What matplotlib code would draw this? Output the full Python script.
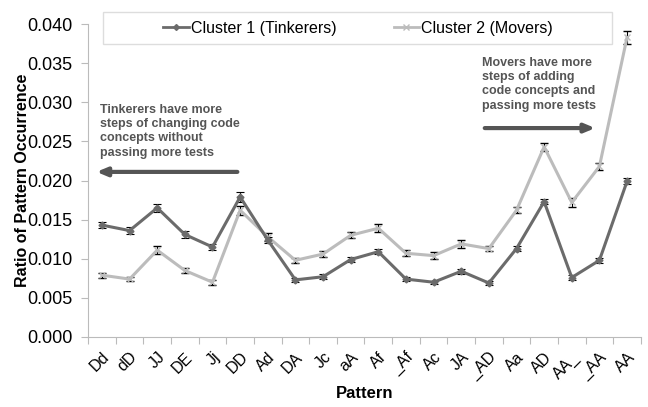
import matplotlib
matplotlib.use("Agg")
import matplotlib.pyplot as plt
from matplotlib.lines import Line2D
from matplotlib.patches import Rectangle
import numpy as np

plt.rcParams["font.family"] = ["Liberation Sans", "DejaVu Sans"]

patterns = ["Dd", "dD", "JJ", "DE", "Jj", "DD", "Ad", "DA", "Jc", "aA", "Af", "_Af",
            "Ac", "JA", "_AD", "Aa", "AD", "AA_", "_AA", "AA"]
cluster1 = [0.0143, 0.0136, 0.0165, 0.0131, 0.0115, 0.0179, 0.0124, 0.0073, 0.0077, 0.0099,
            0.0109, 0.0074, 0.0070, 0.0084, 0.0069, 0.0113, 0.0173, 0.0076, 0.0098, 0.0199]
cluster1_err = [0.0004, 0.0004, 0.0005, 0.0004, 0.0004, 0.0006, 0.0004, 0.0003, 0.0003, 0.0003,
                0.0003, 0.0003, 0.0002, 0.0003, 0.0003, 0.0003, 0.0003, 0.0003, 0.0003, 0.0004]
cluster2 = [0.0079, 0.0074, 0.0111, 0.0085, 0.0070, 0.0162, 0.0128, 0.0098, 0.0106, 0.0130,
            0.0139, 0.0107, 0.0104, 0.0119, 0.0113, 0.0162, 0.0243, 0.0172, 0.0218, 0.0383]
cluster2_err = [0.0003, 0.0003, 0.0005, 0.0003, 0.0003, 0.0006, 0.0005, 0.0003, 0.0004, 0.0004,
                0.0005, 0.0004, 0.0004, 0.0005, 0.0003, 0.0004, 0.0005, 0.0006, 0.0005, 0.0008]
series_names = ["Cluster 1 (Tinkerers)", "Cluster 2 (Movers)"]

fig = plt.figure(figsize=(6.48, 4.07), dpi=100)
ax = fig.add_axes([0.136, 0.172, 0.853, 0.769])

x = np.arange(len(patterns))
c1 = "#6b6b6b"
c2 = "#bcbcbc"
ax.errorbar(x, cluster2, yerr=cluster2_err, color=c2, lw=2.2, marker="x", ms=4, mew=1,
            ecolor="black", elinewidth=0.8, capsize=3, capthick=0.8, zorder=3)
ax.errorbar(x, cluster1, yerr=cluster1_err, color=c1, lw=2.2, marker="D", ms=3.5,
            ecolor="black", elinewidth=0.8, capsize=3, capthick=0.8, zorder=4)

ax.set_xlim(-0.5, len(patterns) - 0.5)
ax.set_ylim(0, 0.040)
yt = np.arange(0, 0.0401, 0.005)
ax.set_yticks(yt)
ax.set_yticklabels([f"{v:.3f}" for v in yt], fontsize=13)
ax.set_xticks(np.arange(-0.5, len(patterns), 1.0))
ax.set_xticklabels([])
ax.set_xticks(x, minor=True)
ax.set_xticklabels(patterns, minor=True, rotation=45, ha="right", va="top", fontsize=11.5,
                   rotation_mode="anchor")
ax.tick_params(axis="x", which="minor", length=0, pad=9)
ax.tick_params(axis="x", which="major", length=5, color="#bbbbbb", direction="out")
ax.tick_params(axis="y", length=5, color="#bbbbbb", direction="out", pad=6)

for s in ["top", "right"]:
    ax.spines[s].set_visible(False)
for s in ["left", "bottom"]:
    ax.spines[s].set_color("#bbbbbb")

ax.set_ylabel("Ratio of Pattern Occurrence", fontsize=11.5, fontweight="bold")
ax.yaxis.set_label_coords(-0.106, 0.5)
ax.set_xlabel("Pattern", fontsize=12, fontweight="bold", labelpad=3)

# legend frame and centered entries
fig.patches.append(Rectangle((103 / 648, 1 - 44 / 407), 509 / 648, 32 / 407,
                             transform=fig.transFigure, fill=False, edgecolor="#dddddd", lw=1))
handles = [Line2D([], [], color=c1, lw=2, marker="D", ms=3),
           Line2D([], [], color=c2, lw=2, marker="x", ms=4)]
fig.legend(handles, series_names, loc="center", bbox_to_anchor=(358 / 648, 1 - 28 / 407),
           ncol=2, fontsize=11.5, frameon=False, handlelength=1.6, handletextpad=0.1,
           columnspacing=3.6)

ax.text(-0.08, 0.0298, "Tinkerers have more\nsteps of changing code\nconcepts without\npassing more tests",
        fontsize=9, fontweight="bold", color="#555555", va="top", ha="left", linespacing=1.25)
ax.annotate("", xy=(-0.3, 0.0211), xytext=(5.0, 0.0211),
            arrowprops=dict(arrowstyle="-|>,head_length=0.6,head_width=0.25", lw=3, color="#555555"))
ax.text(13.75, 0.0358, "Movers have more\nsteps of adding\ncode concepts and\npassing more tests",
        fontsize=9, fontweight="bold", color="#555555", va="top", ha="left", linespacing=1.25)
ax.annotate("", xy=(17.95, 0.0267), xytext=(13.75, 0.0267),
            arrowprops=dict(arrowstyle="-|>,head_length=0.6,head_width=0.25", lw=3, color="#555555"))

fig.savefig("out.png", dpi=100)
